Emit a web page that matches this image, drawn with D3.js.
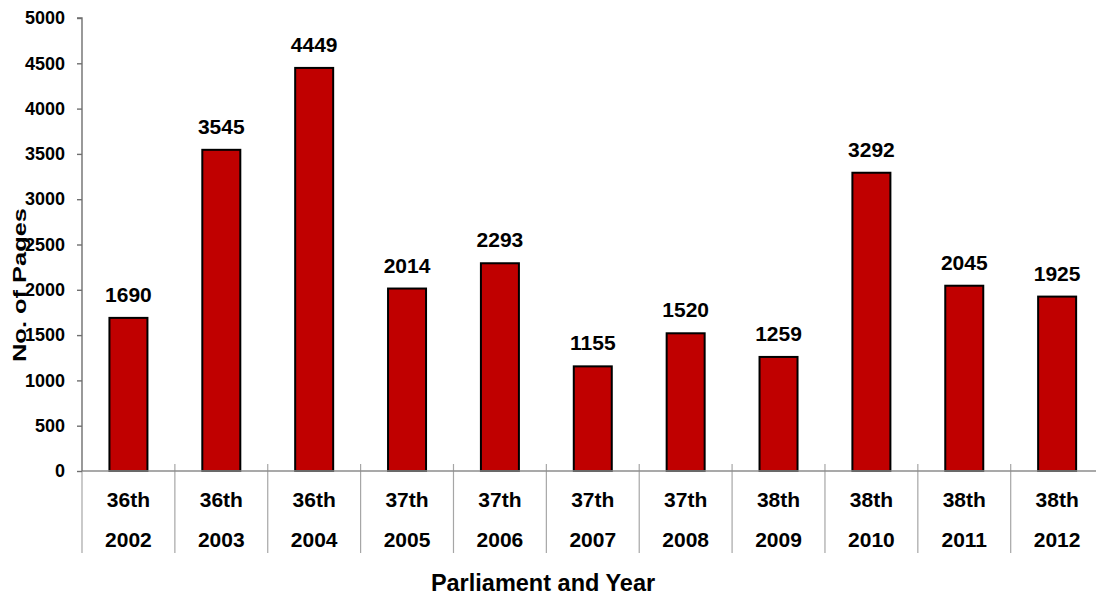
<!DOCTYPE html>
<html>
<head>
<meta charset="utf-8">
<script src="https://cdn.jsdelivr.net/npm/d3@7"></script>
<style>
  html, body { margin: 0; padding: 0; background: #fff; }
  svg { display: block; font-family: Arial, "Liberation Sans", sans-serif; font-weight: bold; }
</style>
</head>
<body>
<svg id="chart" width="1096" height="596"></svg>
<script>
const parliaments = ["36th","36th","36th","37th","37th","37th","37th","38th","38th","38th","38th"];
const years = ["2002","2003","2004","2005","2006","2007","2008","2009","2010","2011","2012"];
const pages = [1690, 3545, 4449, 2014, 2293, 1155, 1520, 1259, 3292, 2045, 1925];
const yTicks = [0, 500, 1000, 1500, 2000, 2500, 3000, 3500, 4000, 4500, 5000];

const svg = d3.select("#chart");
const plotLeft = 82, bandW = 92.87, plotTop = 18, plotBottom = 471;

const x = d3.scaleBand().domain(years).range([plotLeft, plotLeft + years.length * bandW]).paddingInner(0).paddingOuter(0);
const y = d3.scaleLinear().domain([0, 5000]).range([plotBottom, plotTop]);
const barW = 38;

// category divider lines
const dividers = d3.range(years.length + 1).map(i => plotLeft + i * bandW);
svg.append("g").selectAll("line").data(dividers).join("line")
  .attr("x1", d => d).attr("x2", d => d)
  .attr("y1", (d, i) => i === 0 ? plotBottom : plotBottom - 7)
  .attr("y2", 553)
  .attr("stroke", "#a6a6a6").attr("stroke-width", 1.2);

// bars
svg.append("g").selectAll("rect").data(pages).join("rect")
  .attr("x", (d, i) => x(years[i]) + x.bandwidth() / 2 - barW / 2)
  .attr("y", d => y(d))
  .attr("width", barW)
  .attr("height", d => plotBottom - y(d))
  .attr("fill", "#C00000")
  .attr("stroke", "#000").attr("stroke-width", 2);

// x axis line
svg.append("line").attr("x1", plotLeft).attr("x2", 1096).attr("y1", plotBottom).attr("y2", plotBottom)
  .attr("stroke", "#8c8c8c").attr("stroke-width", 1.4);

// y axis
const yAxis = d3.axisLeft(y).tickValues(yTicks).tickSize(5).tickPadding(12).tickFormat(d3.format("d"));
const ya = svg.append("g").attr("transform", `translate(${plotLeft},0)`).call(yAxis);
ya.select(".domain").attr("stroke", "#6f6f6f").attr("stroke-width", 1.4).attr("d", `M-5,${plotTop}H0V${plotBottom}`);
ya.selectAll(".tick line").attr("stroke", "#6f6f6f").attr("stroke-width", 1.4);
ya.selectAll(".tick text").attr("font-size", 18).attr("font-weight", "bold").attr("fill", "#000")
  .attr("font-family", "Arial, 'Liberation Sans', sans-serif");

// data labels
svg.append("g").selectAll("text").data(pages).join("text")
  .attr("x", (d, i) => x(years[i]) + x.bandwidth() / 2)
  .attr("y", d => y(d) - 16)
  .attr("text-anchor", "middle").attr("font-size", 21).attr("fill", "#000")
  .text(d => d);

// category labels
svg.append("g").selectAll("text").data(parliaments).join("text")
  .attr("x", (d, i) => x(years[i]) + x.bandwidth() / 2)
  .attr("y", 507).attr("text-anchor", "middle").attr("font-size", 21).text(d => d);
svg.append("g").selectAll("text").data(years).join("text")
  .attr("x", d => x(d) + x.bandwidth() / 2)
  .attr("y", 547).attr("text-anchor", "middle").attr("font-size", 21).text(d => d);

// axis titles
svg.append("text").attr("x", 543).attr("y", 591).attr("text-anchor", "middle")
  .attr("font-size", 23.5).text("Parliament and Year");
svg.append("text").attr("transform", "translate(26,285) rotate(-90)").attr("text-anchor", "middle")
  .attr("font-size", 19).attr("textLength", 154).attr("lengthAdjust", "spacingAndGlyphs")
  .text("No. of Pages");
</script>
</body>
</html>
